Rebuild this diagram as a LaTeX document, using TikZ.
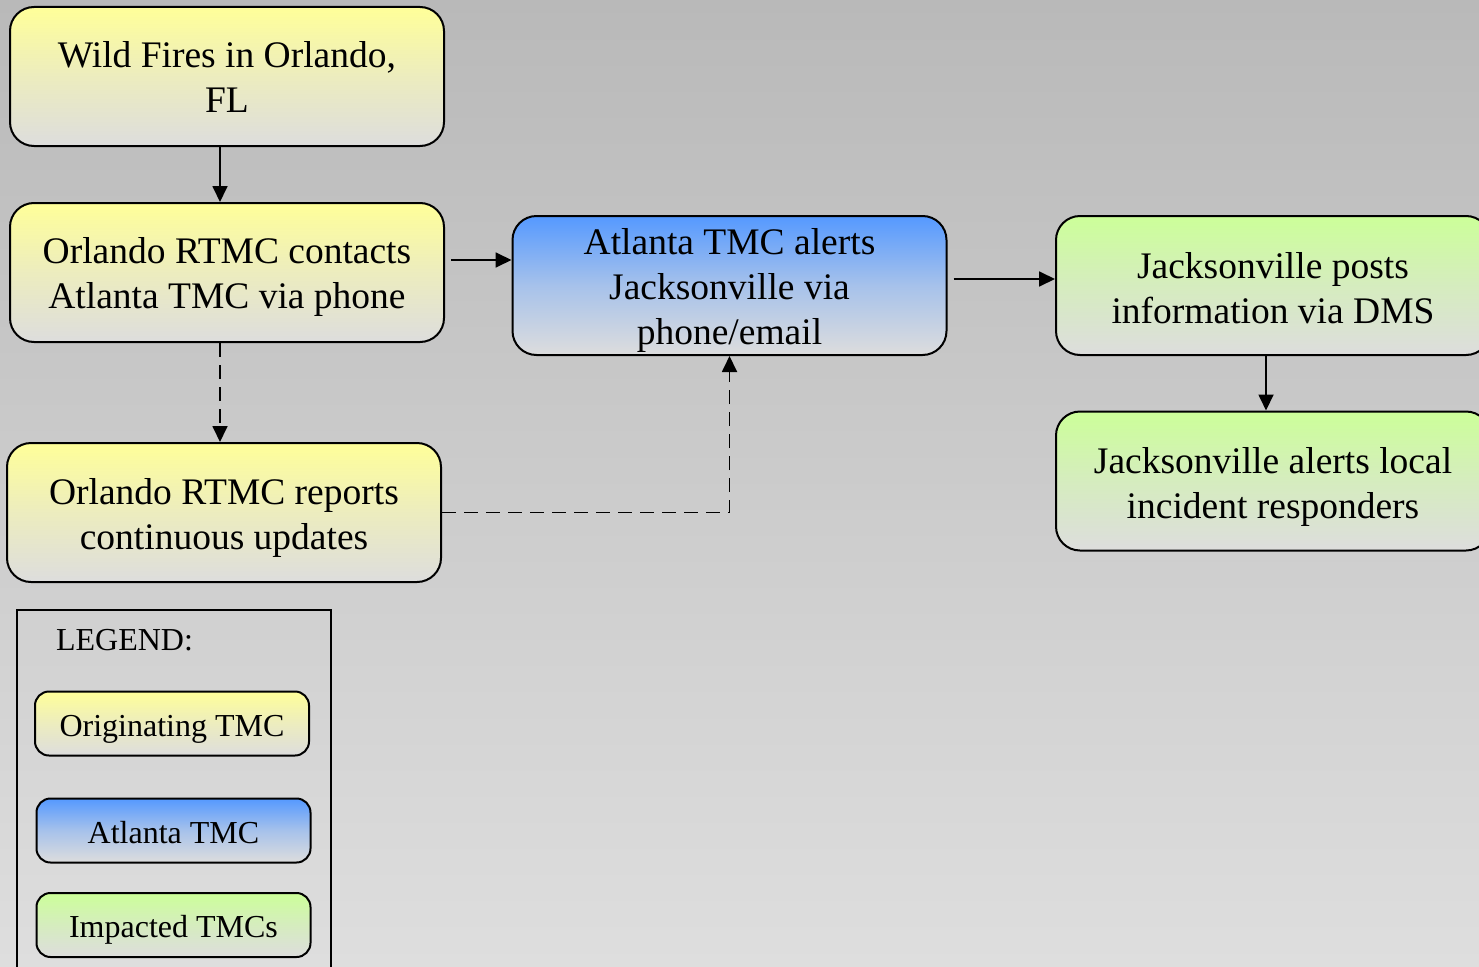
\documentclass[tikz,border=0pt]{standalone}
\usepackage{fontspec}
\setmainfont{Liberation Serif}
\usetikzlibrary{arrows.meta}
\definecolor{bgtop}{HTML}{B9B9B9}
\definecolor{bgbot}{HTML}{DEDEDE}
\definecolor{yel}{HTML}{FFFF99}
\definecolor{blu}{HTML}{5599FF}
\definecolor{grn}{HTML}{CCFF99}
\definecolor{boxbot}{HTML}{DDDDDD}
\begin{document}
\begin{tikzpicture}[x=1pt,y=-1pt,
  flowbox/.style={draw=black, line width=2pt, rounded corners=24pt,
    minimum width=434pt, minimum height=139pt, inner sep=0pt, align=center,
    font=\fontsize{37.5}{45}\selectfont, text depth=0pt, text height=#1},
  flowbox/.default=72pt,
  origbox/.style={flowbox=#1, bottom color=boxbot, top color=yel, middle color=yel!45!boxbot},
  origbox/.default=72pt,
  atlbox/.style={flowbox=#1, bottom color=boxbot, top color=blu, middle color=blu!40!boxbot},
  atlbox/.default=118pt,
  impbox/.style={flowbox=#1, bottom color=boxbot, top color=grn, middle color=grn!45!boxbot},
  impbox/.default=72pt,
  lgbox/.style={draw=black, line width=2pt, rounded corners=14pt,
    minimum width=274pt, minimum height=64pt, inner sep=0pt,
    text height=25pt, text depth=0pt,
    font=\fontsize{32}{38}\selectfont},
  lgorig/.style={lgbox, bottom color=boxbot, top color=yel, middle color=yel!45!boxbot},
  lgatl/.style={lgbox, bottom color=boxbot, top color=blu, middle color=blu!40!boxbot},
  lgimp/.style={lgbox, bottom color=boxbot, top color=grn, middle color=grn!45!boxbot},
  arr/.style={line width=1.8pt, -{Triangle[length=16pt,width=15pt]}},
  dasharr/.style={arr, dash pattern=on 14pt off 8pt},
  legendframe/.style={draw=black, line width=1.5pt, inner sep=0pt}
]
\useasboundingbox (0,0) rectangle (1479,966);
\clip (0,0) rectangle (1479,966);
\fill[top color=bgtop, bottom color=bgbot] (0,0) rectangle (1479,966);

% main flow boxes
\node[origbox=71pt] (wild) at (227,76.5) {Wild Fires in Orlando,\\FL};
\node[origbox=72pt] (contacts) at (227,272.5) {Orlando RTMC contacts\\Atlanta TMC via phone};
\node[origbox=73pt] (reports) at (224,512.5) {Orlando RTMC reports\\continuous updates};
\node[atlbox=118pt] (atl) at (729.5,285.5) {Atlanta TMC alerts\\Jacksonville via\\phone/email};
\node[impbox=75pt] (jpost) at (1273,285.5) {Jacksonville posts\\information via DMS};
\node[impbox=74pt] (jalert) at (1273,481) {Jacksonville alerts local\\incident responders};

% connectors
\draw[arr] ([xshift=-7pt]wild.south) -- ([xshift=-7pt]contacts.north);
\draw[arr] ([shift={(6,-12.5)}]contacts.east) coordinate (c1) -- (c1 -| atl.west);
\draw[arr] ([shift={(6,-6.5)}]atl.east) coordinate (c2) -- (c2 -| jpost.west);
\draw[arr] ([xshift=-7pt]jpost.south) -- ([xshift=-7pt]jalert.north);
\draw[dasharr] ([xshift=-7pt]contacts.south) coordinate (c3) -- (c3 |- reports.north);
\draw[dasharr] (reports.east) -- (reports.east -| atl.south) -- (atl.south);

% legend
\node[legendframe, anchor=north west, minimum width=314pt, minimum height=380pt] (legend) at (16,609) {};
\node[font=\fontsize{32}{38}\selectfont, inner sep=0pt] (legtitle) at (124.5,640) {LEGEND:};
\node[lgorig] (lg1) at (172,723.5) {Originating TMC};
\node[lgatl] (lg2) at (173.5,830.5) {Atlanta TMC};
\node[lgimp] (lg3) at (173.5,925) {Impacted TMCs};
\end{tikzpicture}
\end{document}
